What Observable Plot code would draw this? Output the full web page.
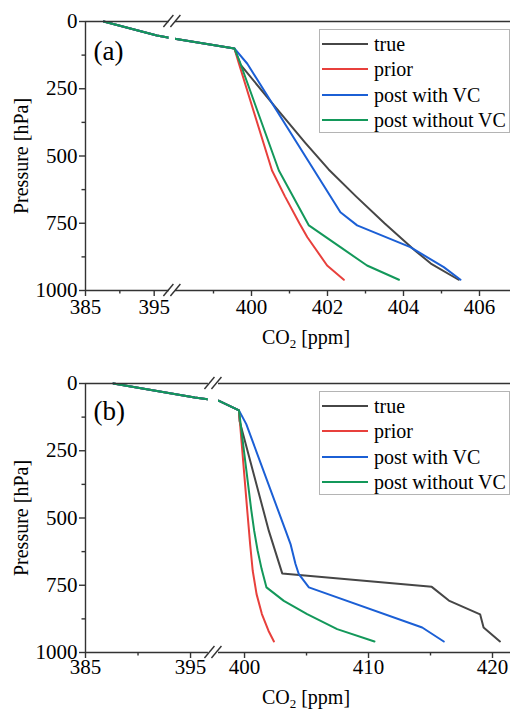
<!DOCTYPE html>
<html>
<head>
<meta charset="utf-8">
<script src="https://cdn.jsdelivr.net/npm/d3@7"></script>
<script src="https://cdn.jsdelivr.net/npm/@observablehq/plot@0.6"></script>
<style>
html, body { margin: 0; padding: 0; background: #fff; overflow: hidden; }
.panel { position: relative; width: 510px; overflow: hidden; }
.panel svg { display: block; overflow: hidden; font-family: "Liberation Serif", serif !important; }
.panel svg text { font-family: "Liberation Serif", serif !important; }
.ylab { position: absolute; font: 20px "Liberation Serif", serif; white-space: nowrap; line-height: 22px;
        transform: translate(-50%, -50%) rotate(-90deg); color: #000; }
.xlab { position: absolute; font: 20px "Liberation Serif", serif; white-space: nowrap; line-height: 20px;
        transform: translateX(-50%); color: #000; }
.xlab sub { font-size: 13px; vertical-align: -4px; line-height: 0; }
.legend { position: absolute; box-sizing: border-box; border: 1px solid #b4b4b4; background: #fff;
          font: 20px "Liberation Serif", serif; color: #000; }
.legend .row { position: absolute; left: 0; height: 24px; width: 100%; }
.legend .sw { position: absolute; left: 2px; top: 11px; width: 46px; height: 2px; }
.legend .tx { position: absolute; left: 54px; top: 0; line-height: 24px; white-space: nowrap; }
</style>
</head>
<body>
<div id="pa" class="panel"></div>
<div id="pb" class="panel"></div>
<script>
// ---------- data ----------
const seriesNames  = ["true", "prior", "post with VC", "post without VC"];
const seriesColors = ["#464646", "#e8403c", "#1b5fd5", "#13985a"];

// shared upper profile (0–100 hPa)
const upperP   = [0, 52, 64, 100];
const upperCO2 = [387.65, 395.4, 397.9, 399.55];

// panel (a)
const aTrueP      = [160, 300, 450, 550, 650, 750, 851, 900, 960];
const aTrueCO2    = [399.71, 400.52, 401.41, 402.03, 402.75, 403.5, 404.3, 404.72, 405.45];
const aPriorP     = [157, 554, 650, 750, 802, 907, 960];
const aPriorCO2   = [399.67, 400.54, 400.88, 401.26, 401.47, 401.99, 402.43];
const aWithP      = [157, 709, 758, 839, 913, 960];
const aWithCO2    = [399.89, 402.34, 402.78, 404.18, 405.06, 405.5];
const aWithoutP   = [157, 554, 758, 839, 907, 960];
const aWithoutCO2 = [399.71, 400.72, 401.51, 402.34, 403.04, 403.88];

// panel (b)
const bTrueP      = [139, 548, 706, 756, 807, 858, 907, 959];
const bTrueCO2    = [399.6, 401.96, 403.04, 415.1, 416.48, 419.0, 419.28, 420.6];
const bPriorP     = [473, 548, 597, 696, 783, 857, 919, 959];
const bPriorCO2   = [400.22, 400.36, 400.45, 400.66, 400.97, 401.4, 401.93, 402.37];
const bWithP      = [151, 548, 597, 671, 709, 758, 907, 959];
const bWithCO2    = [400.14, 403.32, 403.71, 404.11, 404.38, 405.19, 414.33, 416.07];
const bWithoutP   = [473, 548, 620, 690, 758, 808, 857, 913, 959];
const bWithoutCO2 = [400.55, 400.78, 401.05, 401.38, 401.77, 403.17, 405.05, 407.47, 410.48];

// ticks
const yMajor  = [0, 250, 500, 750, 1000];
const yMinor  = [125, 375, 625, 875];
const aXMajor = [385, 395, 400, 402, 404, 406];
const aXMinor = [390, 399, 401, 403, 405];
const bXMajor = [385, 395, 400, 410, 420];
const bXMinor = [390, 405, 415];

// broken axis: [start, break from, break to, end]
const aXDomain = [385, 397.2, 398.0, 407];
const bXDomain = [385, 396.7, 397.9, 422];

function rowsFor(profiles) {
  const rows = [];
  profiles.forEach(([P, C], i) => {
    const ps = upperP.concat(P), cs = upperCO2.concat(C);
    ps.forEach((p, j) => rows.push({series: seriesNames[i], p, co2: cs[j]}));
  });
  return rows;
}

const FONT = '"Liberation Serif", serif';

function panel(cfg) {
  const {el, label, rows, xMajor, xMinor, xDomain, xRange, height, mt, mb, xPad,
         labelDy, legendTop, xlabTop} = cfg;
  const brk = [xDomain[1], xDomain[2]];
  const segs = [[xDomain[0], brk[0]], [brk[1], xDomain[3]]];
  const axisStyle = {stroke: "#333", strokeWidth: 1.4};
  const fmt = d => String(d);
  const svg = Plot.plot({
    width: 510, height,
    marginTop: mt, marginBottom: mb, marginLeft: 85, marginRight: 0,
    style: {fontFamily: FONT, fontSize: "21px", color: "#000", background: "#fff"},
    x: {type: "linear", domain: xDomain, range: xRange},
    y: {domain: [0, 1000], range: [mt, height - mb]},
    color: {domain: seriesNames, range: seriesColors},
    marks: [
      Plot.line(rows, {x: "co2", y: "p", z: "series", stroke: "series", strokeWidth: 2, strokeLinejoin: "round"}),
      Plot.rect([brk], {x1: d => d[0], x2: d => d[1], y1: 0, y2: 1000, fill: "#fff"}),
      Plot.ruleY(segs, {x1: d => d[0], x2: d => d[1], y: 0, ...axisStyle}),
      Plot.ruleY(segs, {x1: d => d[0], x2: d => d[1], y: 1000, ...axisStyle}),
      Plot.ruleX([xDomain[0]], {y1: 0, y2: 1000, ...axisStyle}),
      Plot.axisX(xMajor, {anchor: "bottom", tickSize: 6, tickPadding: xPad, fontSize: 21, tickFormat: fmt, label: null, ...axisStyle}),
      Plot.axisX(xMinor, {anchor: "bottom", tickSize: 3.5, tickFormat: () => "", label: null, ...axisStyle}),
      Plot.axisY(yMajor, {anchor: "left", tickSize: 6, tickPadding: 2, fontSize: 21, tickFormat: fmt, label: null, ...axisStyle}),
      Plot.axisY(yMinor, {anchor: "left", tickSize: 3.5, tickFormat: () => "", label: null, ...axisStyle}),
      Plot.text([label], {frameAnchor: "top-left", textAnchor: "start", lineAnchor: "bottom",
                          dx: 8, dy: labelDy, fontSize: 27, fill: "#000"})
    ]
  });
  svg.setAttribute("font-family", FONT);
  d3.select(svg).selectAll("text, g").each(function () {
    if (this.getAttribute("font-family")) this.setAttribute("font-family", FONT);
  });
  // break marks "//" on top and bottom axis lines
  const xs = svg.scale("x"), ys = svg.scale("y");
  const xc = (xs.apply(brk[0]) + xs.apply(brk[1])) / 2;
  const g = d3.select(svg).append("g").attr("stroke", "#333").attr("stroke-width", 1.4);
  [0, 1000].forEach(v => {
    const yc = ys.apply(v);
    [-3.5, 3.5].forEach(o => {
      g.append("line")
        .attr("x1", xc + o - 5).attr("y1", yc + 6)
        .attr("x2", xc + o + 5).attr("y2", yc - 6);
    });
  });
  const host = document.getElementById(el);
  host.style.height = height + "px";
  host.appendChild(svg);

  // axis titles
  const yl = document.createElement("div");
  yl.className = "ylab";
  yl.textContent = "Pressure [hPa]";
  yl.style.left = "21px";
  yl.style.top = ((mt + height - mb) / 2) + "px";
  host.appendChild(yl);

  const xl = document.createElement("div");
  xl.className = "xlab";
  xl.innerHTML = "CO<sub>2</sub> [ppm]";
  xl.style.left = "306px";
  xl.style.top = xlabTop + "px";
  host.appendChild(xl);

  // legend
  const lg = document.createElement("div");
  lg.className = "legend";
  lg.style.left = "319px";
  lg.style.top = legendTop + "px";
  lg.style.width = "191px";
  lg.style.height = "104px";
  seriesNames.forEach((name, i) => {
    const r = document.createElement("div");
    r.className = "row";
    r.style.top = (2 + i * 25.3) + "px";
    const sw = document.createElement("div");
    sw.className = "sw";
    sw.style.background = seriesColors[i];
    const tx = document.createElement("div");
    tx.className = "tx";
    tx.textContent = name;
    r.appendChild(sw); r.appendChild(tx);
    lg.appendChild(r);
  });
  host.appendChild(lg);
}

panel({
  el: "pa", label: "(a)",
  rows: rowsFor([[aTrueP, aTrueCO2], [aPriorP, aPriorCO2], [aWithP, aWithCO2], [aWithoutP, aWithoutCO2]]),
  xMajor: aXMajor, xMinor: aXMinor, xDomain: aXDomain, xRange: [85, 168.8, 175, 517],
  height: 355, mt: 21, mb: 65, xPad: 3, labelDy: 38, legendTop: 29, xlabTop: 327
});
panel({
  el: "pb", label: "(b)",
  rows: rowsFor([[bTrueP, bTrueCO2], [bPriorP, bPriorCO2], [bWithP, bWithCO2], [bWithoutP, bWithoutCO2]]),
  xMajor: bXMajor, xMinor: bXMinor, xDomain: bXDomain, xRange: [85, 207.9, 218, 516.8],
  height: 355, mt: 28, mb: 58, xPad: 1, labelDy: 36, legendTop: 36, xlabTop: 332
});
</script>
</body>
</html>
